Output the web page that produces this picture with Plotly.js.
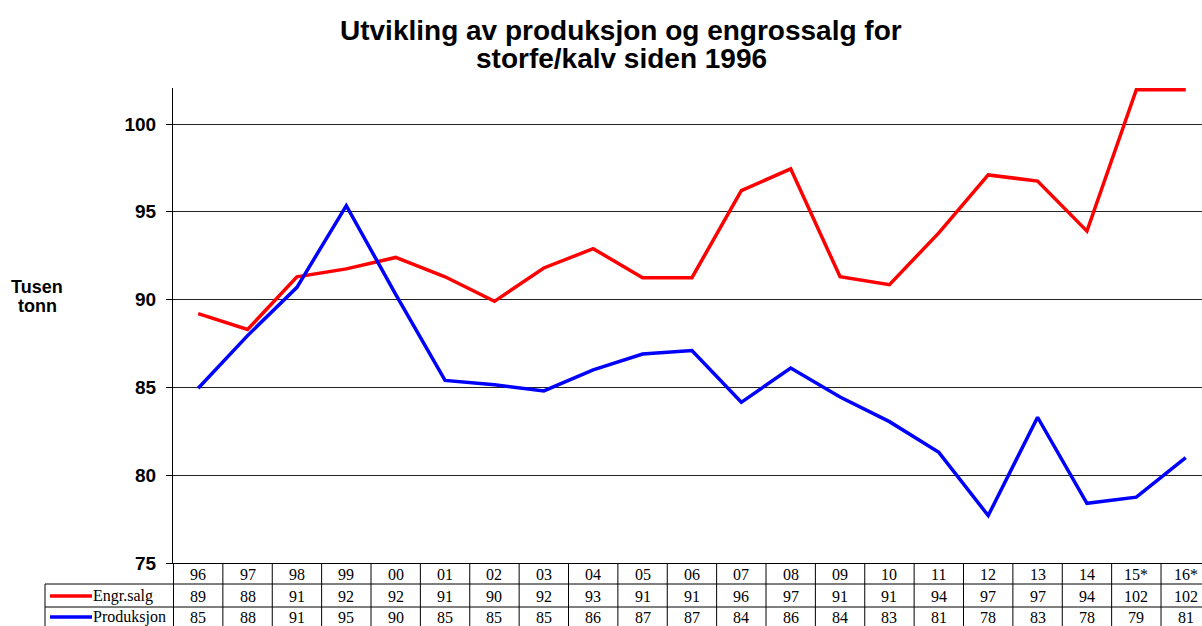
<!DOCTYPE html>
<html>
<head>
<meta charset="utf-8">
<script src="https://cdn.plot.ly/plotly-3.0.1.min.js"></script>
<style>
  body { margin: 0; background: #fff; }
  #chart { width: 1202px; height: 626px; }
</style>
</head>
<body>
<div id="chart"></div>
<script>
// år (kategorier) og verdier i tusen tonn
const years = ['96', '97', '98', '99', '00', '01', '02', '03', '04', '05', '06',
               '07', '08', '09', '10', '11', '12', '13', '14', '15*', '16*'];
const engrossalg = [89.2, 88.3, 91.3, 91.75, 92.4, 91.3, 89.9, 91.8, 92.9, 91.25, 91.25,
                    96.2, 97.45, 91.3, 90.85, 93.8, 97.1, 96.75, 93.9, 101.95, 101.95];
const produksjon = [84.95, 87.95, 90.7, 95.35, 90.3, 85.4, 85.15, 84.8, 86.0, 86.9, 87.1,
                    84.15, 86.1, 84.45, 83.05, 81.3, 77.7, 83.3, 78.4, 78.75, 81.0];
const seriesNames = ['Engr.salg', 'Produksjon'];
const seriesColors = ['#ff0000', '#0000ff'];
const titleLines = ['Utvikling av produksjon og engrossalg for', 'storfe/kalv siden 1996'];
const yTitleLines = ['Tusen', 'tonn'];

const W = 1202, H = 626;
const mL = 173, mT = 88, mB = 63;
const plotW = W - mL, plotH = H - mT - mB;

// helpers: pixel -> paper
const px = x => (x - mL) / plotW;
const py = y => (H - mB - y) / plotH;

const serifFont = { family: 'Liberation Serif, Times New Roman, serif', size: 16, color: '#000' };
const boldFont = { family: 'Liberation Sans, Arial, sans-serif', color: '#000', weight: 'bold' };

const data = [
    { x: years, y: engrossalg, type: 'scatter', mode: 'lines', name: seriesNames[0],
      line: { color: seriesColors[0], width: 3.5 }, hoverinfo: 'x+y' },
    { x: years, y: produksjon, type: 'scatter', mode: 'lines', name: seriesNames[1],
      line: { color: seriesColors[1], width: 3.5 }, hoverinfo: 'x+y' }
];

// data table under the plot (x = category index)
const rowY = [py(574), py(596), py(617)];
const annotations = [];
function cell(i, y, text) {
    return { x: i, xref: 'x', y: y, yref: 'paper', text: text, showarrow: false,
             font: serifFont, xanchor: 'center', yanchor: 'middle' };
}
years.forEach((yr, i) => {
    annotations.push(cell(i, rowY[0], yr));
    annotations.push(cell(i, rowY[1], String(Math.round(engrossalg[i]))));
    annotations.push(cell(i, rowY[2], String(Math.round(produksjon[i]))));
});
seriesNames.forEach((nm, k) => {
    annotations.push({ x: px(91), xref: 'paper', y: rowY[k + 1], yref: 'paper', text: nm,
                       showarrow: false, font: serifFont, xanchor: 'left', yanchor: 'middle' });
});
// title, two lines placed separately for tighter spacing
titleLines.forEach((t, k) => {
    annotations.push({ x: px(621), xref: 'paper', y: py(30 + k * 28), yref: 'paper', text: t,
                       showarrow: false, font: Object.assign({ size: 28 }, boldFont),
                       xanchor: 'center', yanchor: 'middle' });
});
yTitleLines.forEach((t, k) => {
    annotations.push({ x: px(37), xref: 'paper', y: py(287 + k * 19), yref: 'paper', text: t,
                       showarrow: false, font: Object.assign({ size: 18 }, boldFont),
                       xanchor: 'center', yanchor: 'middle' });
});

const shapes = [];
const lineStyle = { color: '#000', width: 1 };
// vertical column separators
for (let i = 0; i <= years.length - 1; i++) {
    shapes.push({ type: 'line', xref: 'x', yref: 'paper', x0: i - 0.5, x1: i - 0.5, y0: 0, y1: py(H), line: lineStyle });
}
// horizontal row separators and left box
shapes.push({ type: 'line', xref: 'paper', yref: 'paper', x0: px(45), x1: 1, y0: py(584), y1: py(584), line: lineStyle });
shapes.push({ type: 'line', xref: 'paper', yref: 'paper', x0: px(45), x1: 1, y0: py(607), y1: py(607), line: lineStyle });
shapes.push({ type: 'line', xref: 'paper', yref: 'paper', x0: px(45), x1: px(45), y0: py(584), y1: py(H), line: lineStyle });
// legend keys
seriesColors.forEach((c, k) => {
    shapes.push({ type: 'line', xref: 'paper', yref: 'paper', x0: px(50), x1: px(92),
                  y0: rowY[k + 1], y1: rowY[k + 1], line: { color: c, width: 3.5 } });
});

const layout = {
    width: W,
    height: H,
    margin: { l: mL, r: 0, t: mT, b: mB },
    paper_bgcolor: '#fff',
    plot_bgcolor: '#fff',
    showlegend: false,
    xaxis: {
        type: 'category',
        range: [-0.51, 20.33],
        showticklabels: false,
        ticks: '',
        showgrid: false,
        showline: true,
        linecolor: '#000',
        linewidth: 1,
        zeroline: false,
        fixedrange: true
    },
    yaxis: {
        range: [75, 102.05],
        tickvals: [75, 80, 85, 90, 95, 100],
        ticks: 'outside',
        ticklen: 6,
        tickcolor: '#000',
        ticklabelstandoff: 6,
        tickfont: Object.assign({ size: 19 }, boldFont),
        showline: true,
        linecolor: '#000',
        linewidth: 1,
        showgrid: true,
        gridcolor: '#222',
        gridwidth: 1,
        zeroline: false,
        fixedrange: true
    },
    annotations: annotations,
    shapes: shapes
};

Plotly.newPlot('chart', data, layout, { displayModeBar: false, staticPlot: true });
</script>
</body>
</html>
